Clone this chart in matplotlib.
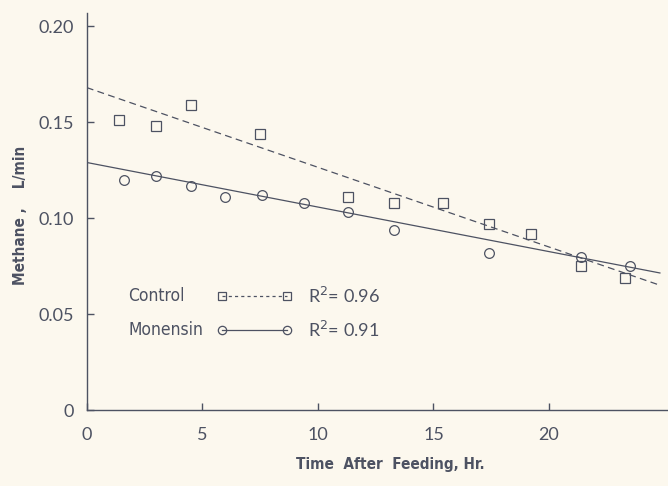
import matplotlib.pyplot as plt

# Methane output after feeding
control_hr = [1.4, 3.0, 4.5, 7.5, 11.3, 13.3, 15.4, 17.4, 19.2, 21.4, 23.3]
control_ch4 = [0.151, 0.148, 0.159, 0.144, 0.111, 0.108, 0.108, 0.097, 0.092, 0.075, 0.069]

monensin_hr = [1.6, 3.0, 4.5, 6.0, 7.6, 9.4, 11.3, 13.3, 17.4, 21.4, 23.5]
monensin_ch4 = [0.120, 0.122, 0.117, 0.111, 0.112, 0.108, 0.103, 0.094, 0.082, 0.080, 0.075]

# regression lines: (intercept, slope, last hour drawn)
control_fit = (0.168, -0.00415, 24.7)
monensin_fit = (0.129, -0.00232, 24.8)

series_names = ['Control', 'Monensin']
r2_labels = ['R$^2$= 0.96', 'R$^2$= 0.91']

x_ticks = [0, 5, 10, 15, 20]
x_ticklabels = ['0', '5', '10', '15', '20']
y_ticks = [0, 0.05, 0.10, 0.15, 0.20]
y_ticklabels = ['0', '0.05', '0.10', '0.15', '0.20']

ink = '#4d5262'
paper = '#fcf8ee'

fig = plt.figure(figsize=(6.68, 4.86), dpi=100, facecolor=paper)
ax = fig.add_axes([0.130, 0.156, 0.870, 0.817], facecolor=paper)

def fit_line(fit):
    b, m, x_end = fit
    return [0, x_end], [b, b + m * x_end]

dash = (5.5, 3.5)
xs, ys = fit_line(control_fit)
ax.plot(xs, ys, color=ink, lw=0.9, dashes=dash)
xs, ys = fit_line(monensin_fit)
ax.plot(xs, ys, color=ink, lw=0.9)

sq = dict(marker='s', ms=6.5, mfc='none', mec=ink, mew=0.9)
ci = dict(marker='o', ms=7, mfc='none', mec=ink, mew=0.9)
ax.plot(control_hr, control_ch4, ls='none', **sq)
ax.plot(monensin_hr, monensin_ch4, ls='none', **ci)

ax.set_xlim(0, 25.15)
ax.set_ylim(0, 0.2068)
ax.set_xticks(x_ticks)
ax.set_xticklabels(x_ticklabels)
ax.set_yticks(y_ticks)
ax.set_yticklabels(y_ticklabels)

for s in ['top', 'right']:
    ax.spines[s].set_visible(False)
for s in ['left', 'bottom']:
    ax.spines[s].set_color(ink)
    ax.spines[s].set_linewidth(1.0)

ax.tick_params(direction='in', length=5, width=1, color=ink, labelcolor=ink, labelsize=13)
ax.tick_params(axis='x', pad=12)
ax.tick_params(axis='y', pad=9)
for lab in ax.get_xticklabels() + ax.get_yticklabels():
    lab.set_fontfamily('Lato')

label_font = dict(family='DejaVu Sans', stretch='condensed', weight='bold', color=ink)
ax.set_xlabel('Time  After  Feeding, Hr.', fontsize=11, labelpad=10, x=0.523, **label_font)
ax.set_ylabel('Methane ,    L/min', fontsize=11, labelpad=8, y=0.49, **label_font)

# key drawn by hand: name, sample line with a marker at each end, R^2
rows_y = [0.287, 0.2015]
key_sq = dict(sq, ms=5.5)
key_ci = dict(ci, ms=6)
styles = [dict(dashes=(2.5, 2.5), **key_sq), dict(**key_ci)]
for name, r2, y, st in zip(series_names, r2_labels, rows_y, styles):
    ax.text(0.071, y, name, transform=ax.transAxes, va='center', ha='left',
            fontsize=12.5, color=ink, family='DejaVu Sans', stretch='condensed')
    ax.plot([0.233, 0.345], [y, y], transform=ax.transAxes, color=ink, lw=0.9,
            clip_on=False, **st)
    ax.text(0.380, y, r2, transform=ax.transAxes, va='center', ha='left',
            fontsize=13, color=ink, family='Lato')

fig.savefig('out.png', dpi=100, facecolor=paper)
